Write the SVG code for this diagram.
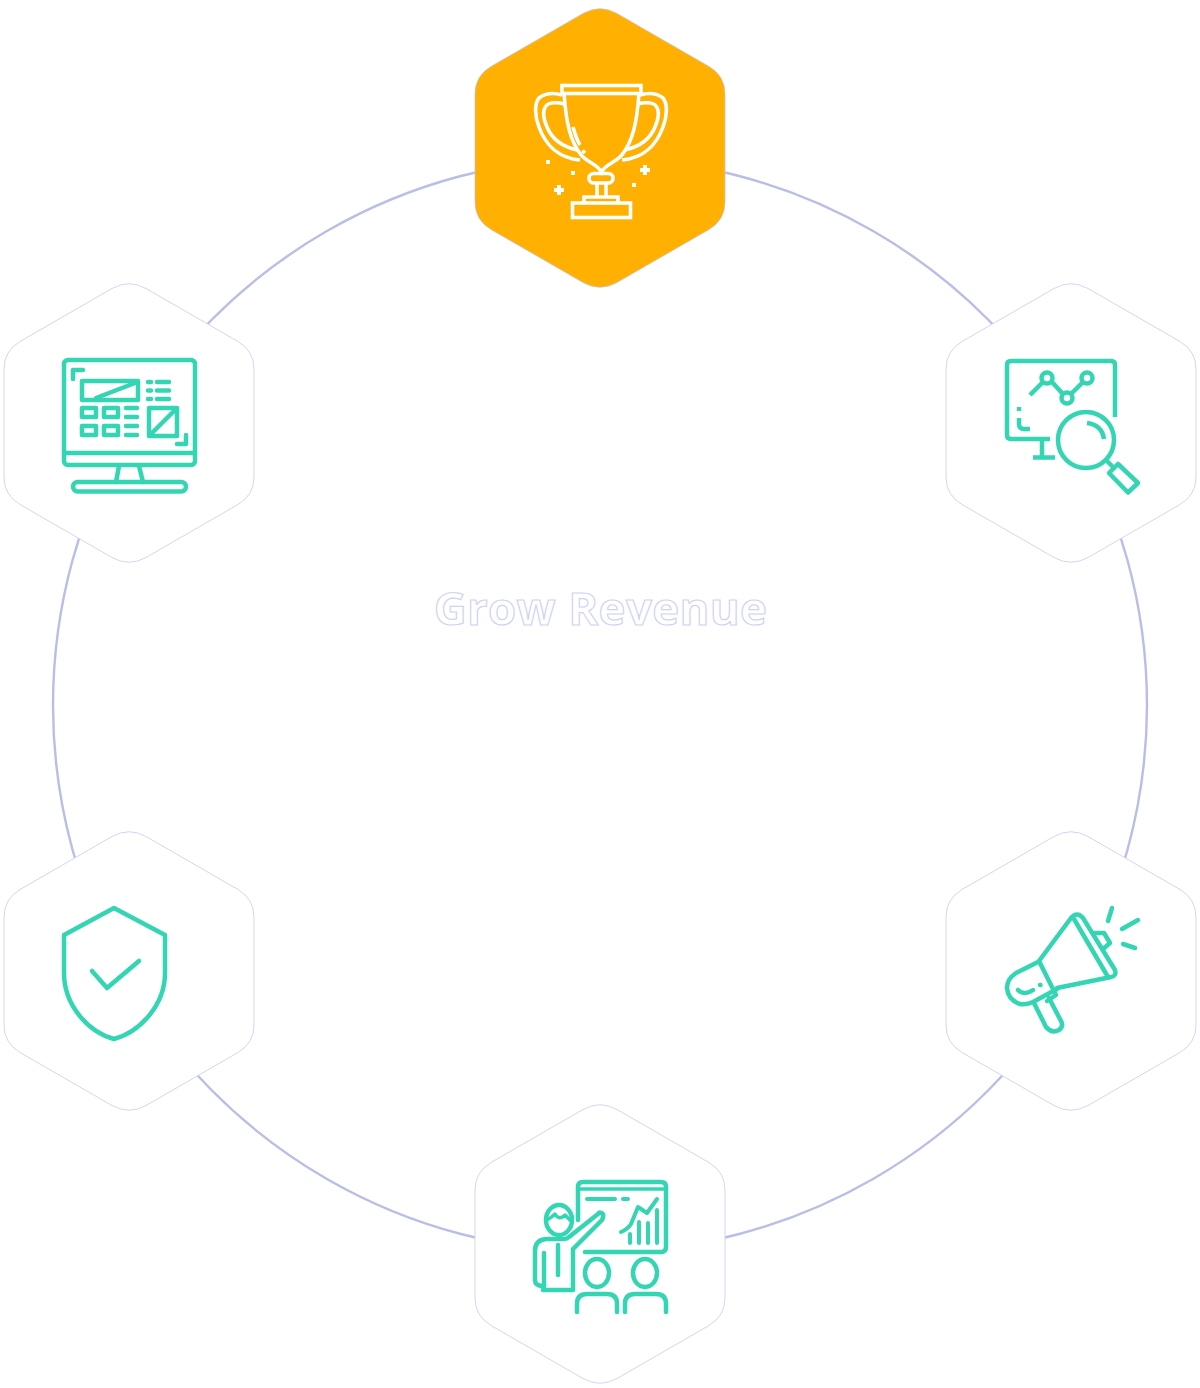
<svg xmlns="http://www.w3.org/2000/svg" width="1200" height="1388" viewBox="0 0 1200 1388">
<style>
.hex{fill:#fff;stroke:#d2d5f5;stroke-width:1}
.hexa{fill:#ffb000;stroke:#c9c4c4;stroke-width:.8}
.ring{fill:none;stroke:#b9bee8;stroke-width:2.4}
.ic{fill:none;stroke:#33d5b3;stroke-width:4.500;stroke-linejoin:round;stroke-linecap:round}
.tr{fill:none;stroke:#fff;stroke-width:3.600;stroke-linejoin:miter;stroke-linecap:butt}
.title{font-family:"Open Sans","Noto Sans",sans-serif;font-weight:700;font-size:45.500px;letter-spacing:.4px;fill:#fff;stroke:#cfd3f3;stroke-width:1.200;text-anchor:middle}
</style>
<defs>
<path id="h" d="M-17-134.500Q0-144 17-134.500L109-81.500Q125-72 125-54V54Q125 72 109 81.500L17 134.500Q0 144 -17 134.500L-109 81.500Q-125 72 -125 54V-54Q-125 -72 -109 -81.500Z"/>
</defs>
<g id="connectors">
<path class="ring" d="M600 158A547 547 0 0 1 1073.7 431.500"/>
<path class="ring" d="M1073.7 431.500A547 547 0 0 1 1073.7 978.500"/>
<path class="ring" d="M1073.7 978.500A547 547 0 0 1 600 1252"/>
<path class="ring" d="M600 1252A547 547 0 0 1 126.300 978.500"/>
<path class="ring" d="M126.300 978.500A547 547 0 0 1 126.300 431.500"/>
<path class="ring" d="M126.300 431.500A547 547 0 0 1 600 158"/>
</g>
<text class="title" x="600.500" y="624.500">Grow Revenue</text>
<g id="node-trophy">
<use href="#h" class="hexa" x="600" y="148"/>
<g class="tr">
<rect x="562" y="85.500" width="79" height="8"/>
<path d="M564 93C566 122 570 142 582 156C590 164 597 164 601.500 172C606 164 613 164 621 156C633 142 637 122 639 93"/>
<rect x="589" y="173.500" width="24" height="9.500" rx="4.700"/>
<path d="M597 183V197M606 183V197"/>
<path d="M584 202V197H618V202"/>
<rect x="572.500" y="203" width="58" height="14.500"/>
<path d="M562 95C552 92 544 94 539 98C534 104 535 117 539 127C545 144 558 158 580 160"/>
<path d="M564 104C558 102 549 102 546 106C542 111 544 120 547 127C551 137 560 146 577 150"/>
<path d="M640 95C650 92 658 94 663 98C668 104 667 117 663 127C657 144 644 158 622 160"/>
<path d="M638 104C644 102 653 102 656 106C660 111 658 120 655 127C651 137 642 146 625 150"/>
<path d="M573 127C575 134 577 140 580 145"/>
<path d="M582.500 150.500L585 153"/>
</g>
<g fill="#fff">
<rect x="546" y="160" width="4" height="4"/><rect x="571" y="171" width="4" height="4"/><rect x="632" y="183" width="4" height="4"/>
<path d="M643 165h4v3h3v4h-3v3h-4v-3h-3v-4h3zM557 185h4v3h3v4h-3v3h-4v-3h-3v-4h3z"/>
</g>
</g>
<g id="node-dashboard">
<use href="#h" class="hex" x="129" y="423"/>
<g class="ic">
<rect x="64" y="360" width="131" height="105" rx="4"/>
<path d="M64 453H195M119 466L116 482M139 466L143 482"/>
<rect x="73" y="482" width="113" height="9.500" rx="4.700"/>
<path d="M73 379V370H83M177 444H186V435"/>
<rect x="82" y="381" width="56" height="19"/>
<path d="M96 398L135 383"/>
<path d="M148 382h3M148 390.500h3M148 399h3M157 382h12M157 390.500h12M157 399h12"/>
<rect x="82" y="408" width="14" height="9"/><rect x="104" y="408" width="14" height="9"/>
<rect x="82" y="426" width="14" height="9"/><rect x="104" y="426" width="14" height="9"/>
<path d="M126 408h11M126 417h11M126 426h11M126 435h11"/>
<rect x="149" y="408" width="28" height="28"/>
<path d="M152 433L175 410"/>
</g>
</g>
<g id="node-analytics">
<use href="#h" class="hex" x="1071" y="423"/>
<g class="ic">
<path stroke-linecap="butt" d="M1115 417V365Q1115 361 1111 361H1011Q1007 361 1007 365V435Q1007 439 1011 439H1050"/>
<path stroke-linecap="butt" d="M1042 440V457M1033 457.500H1055"/>
<path stroke-linecap="butt" d="M1030 395L1043 382M1052 382L1062 393M1072 393L1083 382"/>
<circle cx="1047" cy="378" r="5.500"/><circle cx="1067" cy="398" r="5.500"/><circle cx="1087" cy="378" r="5.500"/>
<path stroke-linecap="butt" d="M1019 407V411M1019 418V424Q1019 429 1024 429H1030"/>
<circle cx="1086" cy="440" r="28"/>
<path stroke-linecap="butt" d="M1087 423Q1102 425 1104 439"/>
<path stroke-linecap="butt" d="M1106 460L1114 468"/>
<path d="M1118 464L1138 483L1128 492.500L1109 473Z"/>
</g>
</g>
<g id="node-campaign">
<use href="#h" class="hex" x="1071" y="971"/>
<g class="ic">
<path d="M1038 962L1016 973Q1007 979 1007 988Q1008 1000 1020 1004Q1027 1005 1033 1002L1057 989"/>
<path d="M1039 961L1071 918Q1077 911 1083 918L1115 970Q1117 976 1111 977L1057 988"/>
<path d="M1074 919L1108 977"/>
<path d="M1040 963L1056 995L1047 1001"/>
<path d="M1095 933L1104 933L1110 943L1103 949"/>
<path d="M1040 985h.5M1018 990Q1024 996 1033 990"/>
<path d="M1034 1003L1046 1027Q1052 1034 1059 1030Q1064 1026 1061 1021L1049 998"/>
<path d="M1108 921L1112 908M1122 929L1138 920M1123 944L1135 948"/>
</g>
</g>
<g id="node-presentation">
<use href="#h" class="hex" x="600" y="1244"/>
<g class="ic">
<path d="M578 1220V1187Q578 1182 583 1182H661Q666 1182 666 1187V1247Q666 1252 661 1252H585"/>
<path stroke-width="3.500" d="M578 1189H666"/>
<path stroke-width="4" d="M587 1199H615M623 1199H628"/>
<path stroke-width="4" d="M621 1232Q628 1229 631 1224L638 1207L647 1213L657 1199"/>
<path stroke-width="4" d="M630 1234V1243M639 1222V1243M648 1223V1243M657 1210V1243"/>
<ellipse cx="559" cy="1220" rx="13" ry="15"/>
<path stroke-width="3.500" d="M547 1220Q552 1217 555 1214Q559 1221 565 1215L571 1221"/>
<path d="M598 1214L569 1237Q567 1239 564 1239H546Q535 1240 535 1251V1280Q535 1286 543 1286V1290H573V1249L602 1220Q605 1214 601 1213Q599 1212 598 1214Z"/>
<path d="M544 1253V1287M558 1245V1275"/>
<ellipse cx="597" cy="1273" rx="12" ry="14"/><ellipse cx="645" cy="1273" rx="12" ry="14"/>
<path d="M577 1312V1304Q577 1294 587 1294H607Q617 1294 617 1304V1312M625 1312V1304Q625 1294 635 1294H656Q666 1294 666 1304V1312"/>
</g>
</g>
<g id="node-security">
<use href="#h" class="hex" x="129" y="971"/>
<g class="ic">
<path d="M114 908L165 935V973C165 1005 140 1032 114 1039C88 1032 64 1005 64 973V935Z"/>
<path d="M92 971L107 988L139 961"/>
</g>
</g>
</svg>
